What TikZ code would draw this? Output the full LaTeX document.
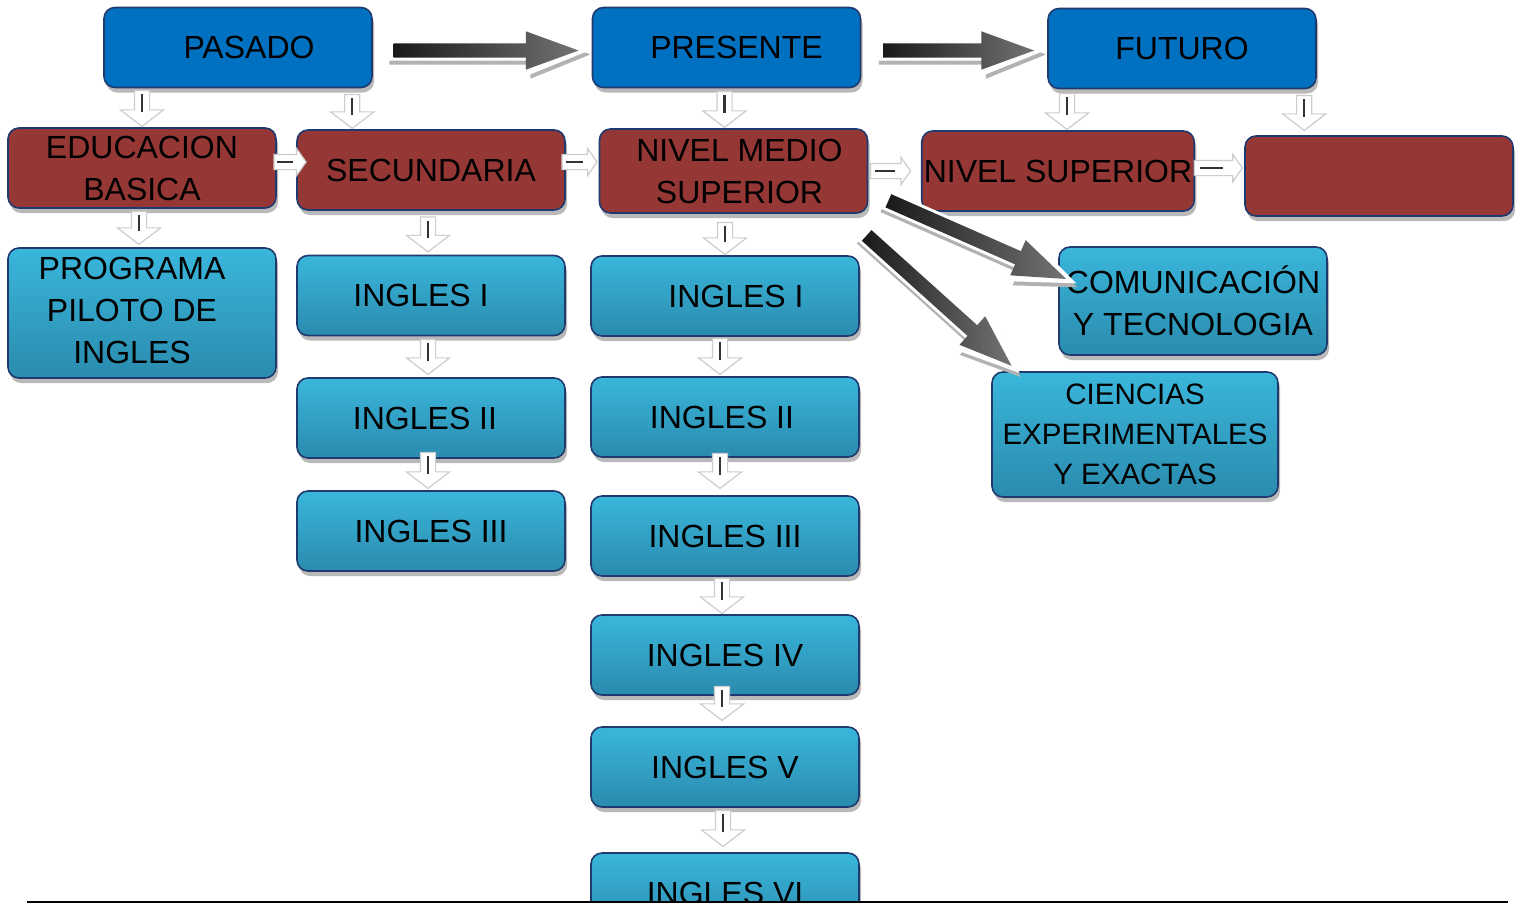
\documentclass[tikz,border=0pt]{standalone}
\usepackage{fontspec}
\setmainfont{Liberation Sans}
\usetikzlibrary{shapes.arrows,shadows,calc}
\definecolor{blu}{HTML}{0070C0}
\definecolor{nav}{HTML}{1F3A6E}
\definecolor{brk}{HTML}{953735}
\definecolor{tealtop}{HTML}{3AB6DB}
\definecolor{tealbot}{HTML}{2A8BAE}
\tikzset{
 box/.style={rounded corners=11pt, draw=nav, line width=1.6pt, minimum width=268pt, minimum height=80pt, align=center, inner sep=2pt, font=\fontsize{32}{42}\selectfont, text=black, drop shadow={shadow xshift=2pt, shadow yshift=-5pt, fill=gray!55, opacity=1}},
 bluebox/.style={box, fill=blu},
 redbox/.style={box, fill=brk},
 tealbox/.style={box, top color=tealtop, bottom color=tealbot},
 smarr/.style={single arrow, single arrow head extend=14pt, single arrow tip angle=105, single arrow head indent=0pt, inner xsep=0pt, inner ysep=7pt, fill=white, draw=gray!40, line width=1.2pt},
 smallhead/.style={single arrow head extend=6pt, single arrow tip angle=110},
 bigarr/.style={single arrow, single arrow head extend=12pt, single arrow tip angle=40, single arrow head indent=0pt, inner xsep=0pt, inner ysep=7pt, left color=black!90, right color=black!55},
 bigbg/.style={single arrow, single arrow head extend=14pt, single arrow tip angle=44, single arrow head indent=0pt, inner xsep=0pt, inner ysep=10pt, fill=white, drop shadow={shadow xshift=1pt, shadow yshift=-4pt, fill=gray!60, opacity=1}},
}
\newcommand\smconn[4][]{%
 \path let \p1=#3, \p2=#4, \n1={atan2(\y2-\y1,\x2-\x1)}, \n2={veclen(\x2-\x1,\y2-\y1)} in
  node[smarr, #1, rotate=\n1, minimum height=\n2, anchor=tip] (#2) at (\p2) {};
 \draw[line width=2.4pt, black!80] ($(#2.tail)!0.12!(#2.tip)$) -- ($(#2.tail)!0.6!(#2.tip)$);
}
\newcommand\bigconn[3]{%
 \path let \p1=#2, \p2=#3, \n1={atan2(\y2-\y1,\x2-\x1)}, \n2={veclen(\x2-\x1,\y2-\y1)} in
  node[bigbg, rotate=\n1, minimum height=\n2+16pt] at ($(\p1)!0.5!(\p2)$) {}
  node[bigarr, rotate=\n1, minimum height=\n2] (#1) at ($(\p1)!0.5!(\p2)$) {};
}
\begin{document}
\begin{tikzpicture}[x=1pt,y=-1pt]
\useasboundingbox (0,0) rectangle (1522,903);
\begin{scope}
\clip (0,0) rectangle (1522,901);
% top row
\node[bluebox] (pasado) at (238,47.5) {\hspace{22pt}PASADO};
\node[bluebox] (presente) at (726.5,47.5) {\hspace{20pt}PRESENTE};
\node[bluebox] (futuro) at (1182,48.5) {FUTURO};
% second row
\node[redbox] (edu) at (142,168) {EDUCACION\\BASICA};
\node[redbox] (sec) at (431,170) {SECUNDARIA};
\node[redbox, minimum height=84pt] (nms) at (733.5,171) {\hspace{12pt}NIVEL MEDIO\\\hspace{12pt}SUPERIOR};
\node[redbox] (nsup) at (1058,171) {NIVEL SUPERIOR};
\node[redbox] (blank) at (1379,176) {};
% left
\node[tealbox, minimum height=126pt] (prog) at (142,313) {\begin{tabular}{@{}c@{}}PROGRAMA\\PILOTO DE\\INGLES\end{tabular}\hspace{20pt}};
% secundaria column
\node[tealbox] (si1) at (431,295.5) {INGLES I\hspace{20pt}};
\node[tealbox] (si2) at (431,418) {\raisebox{-6pt}{INGLES II}\hspace{12pt}};
\node[tealbox] (si3) at (431,531) {\raisebox{-4pt}{INGLES III}};
% medio superior column
\node[tealbox] (mi1) at (725,296) {\raisebox{-3pt}{\hspace{22pt}INGLES I}};
\node[tealbox] (mi2) at (725,417) {INGLES II\hspace{6pt}};
\node[tealbox] (mi3) at (725,536) {INGLES III};
\node[tealbox] (mi4) at (725,655) {INGLES IV};
\node[tealbox] (mi5) at (725,767) {\raisebox{-5pt}{INGLES V}};
\node[tealbox] (mi6) at (725,893) {INGLES VI};
% right
\node[tealbox, minimum height=108pt] (com) at (1193,301) {COMUNICACIÓN\\Y TECNOLOGIA};
\node[tealbox, minimum width=286pt, minimum height=125pt, font=\fontsize{29.5}{40}\selectfont] (cie) at (1135,434.5) {CIENCIAS\\EXPERIMENTALES\\Y EXACTAS};
% big arrows
\bigconn{b1}{($(pasado.east)+(11,3)$)}{($(presente.west)+(-23,3)$)}
\bigconn{b2}{($(presente.east)+(12,3)$)}{($(futuro.west)+(-23,2)$)}
\bigconn{d2}{($(nms.south east)+(-9,15)$)}{($(cie.north west)+(13,-12)$)}
\bigconn{d1}{($(nms.south east)+(11,-17)$)}{($(com.west)+(-1,-26)$)}
% small down arrows
\smconn{a1}{($(edu.north)+(0,-36)$)}{(edu.north)}
\smconn{a2}{($(sec.north west)+(56,-34)$)}{($(sec.north west)+(56,0)$)}
\smconn{a3}{($(nms.north)+(-9,-36)$)}{($(nms.north)+(-9,0)$)}
\smconn{a4}{($(nsup.north)+(9,-36)$)}{($(nsup.north)+(9,0)$)}
\smconn{a5}{($(blank.north west)+(60,-39)$)}{($(blank.north west)+(60,-4)$)}
\smconn{a6}{($(prog.north)+(-3,-35)$)}{($(prog.north)+(-3,-2)$)}
\smconn{a7}{($(si1.north)+(-3,-37)$)}{($(si1.north)+(-3,-2)$)}
\smconn{a8}{($(mi1.north)+(0,-32)$)}{(mi1.north)}
\smconn{a9}{($(si2.north)+(-3,-37)$)}{($(si2.north)+(-3,-2)$)}
\smconn{a10}{($(si3.north)+(-3,-37)$)}{($(si3.north)+(-3,-1)$)}
\smconn{a11}{($(mi2.north)+(-5,-37)$)}{($(mi2.north)+(-5,-1)$)}
\smconn{a12}{($(mi3.north)+(-5,-41)$)}{($(mi3.north)+(-5,-6)$)}
\smconn{a13}{($(mi4.north)+(-3,-35)$)}{($(mi4.north)+(-3,0)$)}
\smconn{a14}{($(mi5.north)+(-3,-39)$)}{($(mi5.north)+(-3,-5)$)}
\smconn{a15}{($(mi6.north)+(-2,-41)$)}{($(mi6.north)+(-2,-5)$)}
% small horizontal arrows
\smconn[smallhead]{h1}{($(edu.east)+(-2,-6)$)}{($(edu.east)+(30,-6)$)}
\smconn[smallhead]{h2}{($(sec.east)+(-3,-8)$)}{($(sec.east)+(32,-8)$)}
\smconn[smallhead]{h3}{($(nms.east)+(3,0)$)}{($(nms.east)+(43,0)$)}
\smconn[smallhead]{h4}{($(nsup.east)+(0,-3)$)}{($(nsup.east)+(48,-3)$)}
\end{scope}
\coordinate (l1) at (27,902);
\coordinate (l2) at (1508,902);
\draw[line width=1.8pt] (l1) -- (l2);
\end{tikzpicture}
\end{document}
